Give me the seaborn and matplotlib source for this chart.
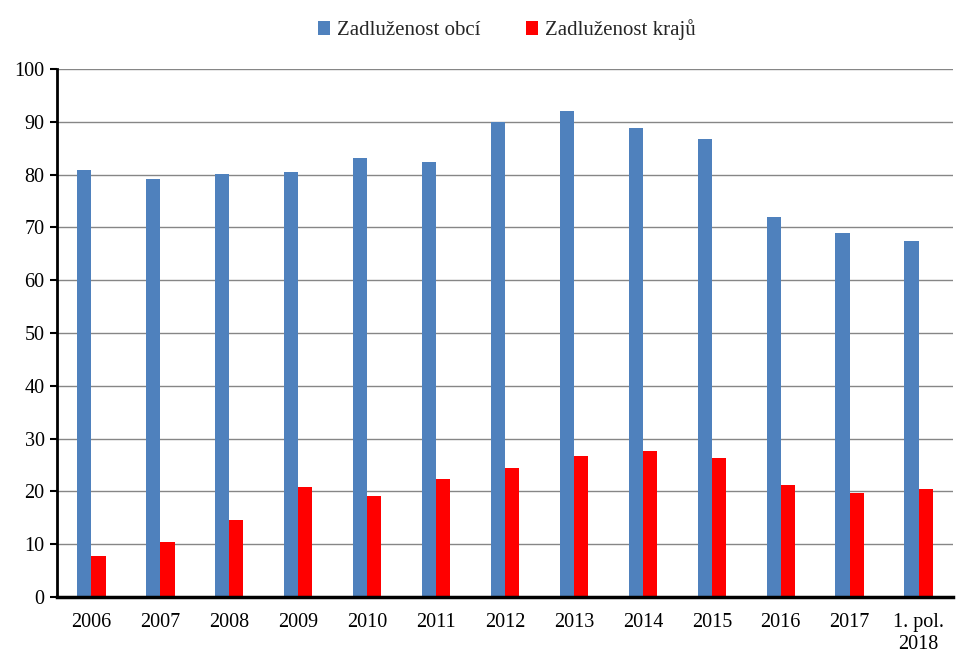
import matplotlib
matplotlib.use("Agg")
import matplotlib.pyplot as plt
import seaborn as sns
import pandas as pd
from matplotlib.patches import Patch

categories = ["2006", "2007", "2008", "2009", "2010", "2011", "2012", "2013",
              "2014", "2015", "2016", "2017", "1. pol.\n2018"]
obce = [80.9, 79.2, 80.1, 80.5, 83.1, 82.4, 90.0, 92.0, 88.8, 86.7, 72.0, 68.9, 67.4]
kraje = [7.8, 10.4, 14.6, 20.8, 19.1, 22.3, 24.4, 26.7, 27.7, 26.3, 21.2, 19.7, 20.5]
series_names = ["Zadluženost obcí", "Zadluženost krajů"]
colors = ["#4F81BD", "#FF0000"]

df = pd.DataFrame({
    "cat": categories * 2,
    "val": obce + kraje,
    "series": [series_names[0]] * len(categories) + [series_names[1]] * len(categories),
})

sns.set_style("white")
plt.rcParams["font.family"] = ["Liberation Serif", "DejaVu Serif"]

fig = plt.figure(figsize=(9.8, 6.68), dpi=100)
ax = fig.add_axes([57 / 980, 1 - 597 / 668, (953 - 57) / 980, (597 - 69) / 668])

sns.barplot(data=df, x="cat", y="val", hue="series", palette=colors,
            width=0.41, gap=0, ax=ax, saturation=1, legend=False,
            linewidth=0, edgecolor="none")

ax.set_ylim(0, 100)
ax.set_xlim(-0.5, len(categories) - 0.5)
ax.set_yticks(range(0, 101, 10))
ax.yaxis.grid(True, color="#868686", linewidth=1)
ax.set_axisbelow(True)
ax.set_xlabel("")
ax.set_ylabel("")
for s in ["top", "right"]:
    ax.spines[s].set_visible(False)
ax.spines["left"].set_color("black")
ax.spines["left"].set_linewidth(2)
ax.spines["bottom"].set_color("black")
ax.spines["bottom"].set_linewidth(2.5)
ax.tick_params(axis="y", which="major", left=True, length=5, width=1.5,
               color="black", labelsize=14.5, pad=4)
ax.tick_params(axis="x", bottom=False, labelsize=14.5, pad=8)
for lbl in ax.get_xticklabels() + ax.get_yticklabels():
    lbl.set_color("black")

handles = [Patch(facecolor=c, edgecolor="none") for c in colors]
fig.legend(handles, series_names, loc="center", bbox_to_anchor=(0.517, 1 - 30 / 668),
           ncol=2, frameon=False, fontsize=15, handlelength=0.6, handleheight=0.6,
           handletextpad=0.3, columnspacing=2.2)

fig.savefig("out.png", dpi=100)
